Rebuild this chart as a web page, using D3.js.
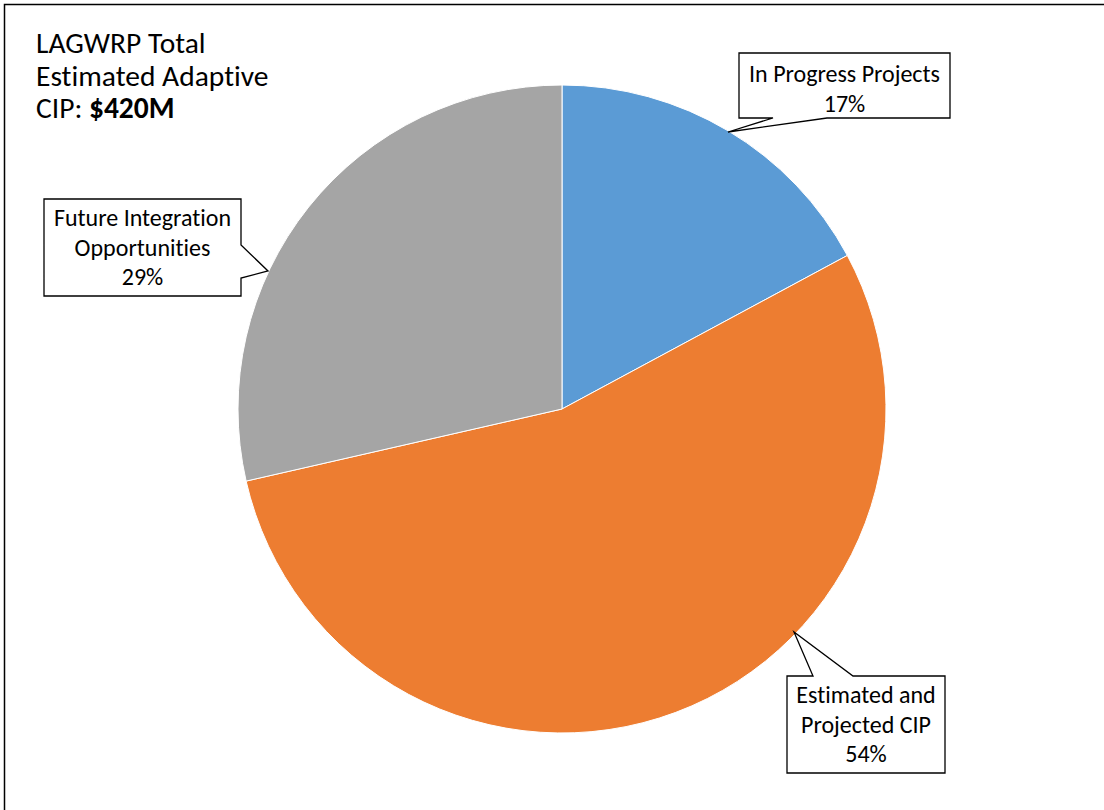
<!DOCTYPE html>
<html><head><meta charset="utf-8">
<script src="https://cdn.jsdelivr.net/npm/d3@7"></script>
<style>body{margin:0;background:#fff;} svg{display:block;} text{font-variant-ligatures:none;font-feature-settings:"liga" 0,"clig" 0;}</style>
</head><body>
<svg id="c" width="1104" height="810"></svg>
<script>
const categories = ["In Progress Projects", "Estimated and Projected CIP", "Future Integration Opportunities"];
const values = [72, 228, 120]; // $M, total 420
const percentLabels = ["17%", "54%", "29%"];
const colors = ["#5B9BD5", "#ED7D31", "#A5A5A5"];
const titleLines = ["LAGWRP Total", "Estimated Adaptive"];
const titleLast = ["CIP: ", "$420M"];

const svg = d3.select("#c");
const font = "Carlito, Lato, 'Liberation Sans', sans-serif";

svg.append("rect").attr("x",4.5).attr("y",4.5).attr("width",1200).attr("height",900)
  .attr("fill","#fff").attr("stroke","#000").attr("stroke-width",1.5);

const cx = 562, cy = 409, r = 324;
const pie = d3.pie().sort(null).value(d=>d);
const arcs = pie(values);
const arc = d3.arc().innerRadius(0).outerRadius(r);
const g = svg.append("g").attr("transform",`translate(${cx},${cy})`);
g.selectAll("path").data(arcs).join("path").attr("d",arc)
  .attr("fill",(d,i)=>colors[i]).attr("stroke","#fff").attr("stroke-width",1);

// title
const t = svg.append("text").attr("font-family",font).attr("font-size",29.5).attr("fill","#000");
titleLines.forEach((l,i)=>t.append("tspan").attr("x",36).attr("y",53+i*32.5).text(l));
t.append("tspan").attr("x",36).attr("y",53+2*32.5).text(titleLast[0]);
t.append("tspan").attr("font-weight","bold").text(titleLast[1]);

// callouts: box + pointer
const callouts = [
  {i:0, box:[739,53,950,118], ptr:[[773,118],[728,132],[827,118]], lines:["In Progress Projects"], base:82},
  {i:1, box:[787,676,945,773], ptr:[[813,676],[794,632],[853,676]], lines:["Estimated and","Projected CIP"], base:703},
  {i:2, box:[44,199,241,296], ptr:[[241,245],[268,271],[241,278]], lines:["Future Integration","Opportunities"], base:226}
];
callouts.forEach(c=>{
  const [x0,y0,x1,y1] = c.box;
  let poly;
  if (c.i===0) poly = [[x0,y0],[x1,y0],[x1,y1],c.ptr[2],c.ptr[1],c.ptr[0],[x0,y1]];
  if (c.i===1) poly = [[x0,y0],c.ptr[0],c.ptr[1],c.ptr[2],[x1,y0],[x1,y1],[x0,y1]];
  if (c.i===2) poly = [[x0,y0],[x1,y0],c.ptr[0],c.ptr[1],c.ptr[2],[x1,y1],[x0,y1]];
  svg.append("path").attr("d","M"+poly.map(p=>p.join(",")).join("L")+"Z")
    .attr("fill","#fff").attr("stroke","#000").attr("stroke-width",1.3);
  const tx = svg.append("text").attr("font-family",font).attr("font-size",24)
    .attr("text-anchor","middle").attr("fill","#000");
  const all = c.lines.concat([percentLabels[c.i]]);
  all.forEach((l,k)=>tx.append("tspan").attr("x",(x0+x1)/2).attr("y",c.base+k*29.5).text(l));
});
</script>
</body></html>
